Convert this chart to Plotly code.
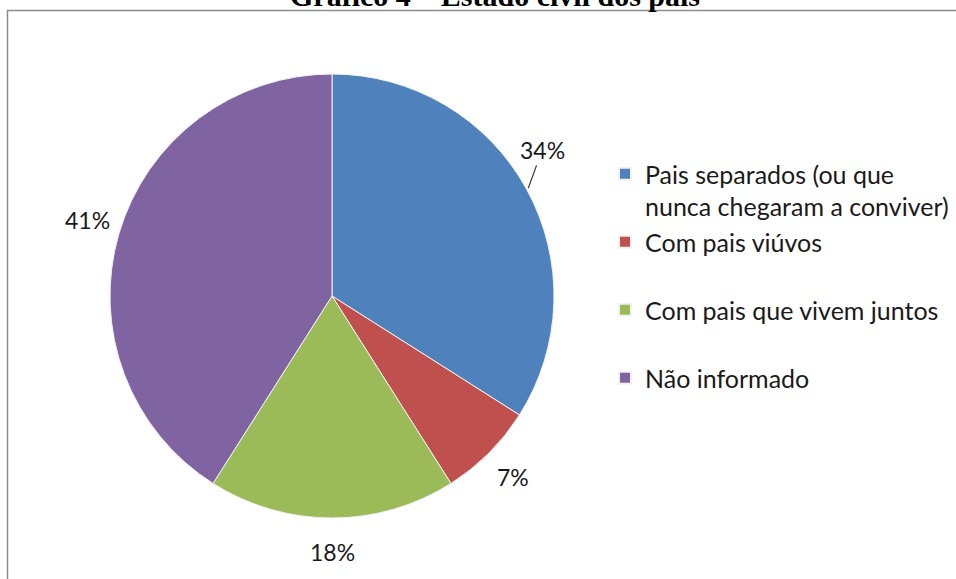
import math
import plotly.graph_objects as go

labels = [
    "Pais separados (ou que<br>nunca chegaram a conviver)",
    "Com pais viúvos<br> ",
    "Com pais que vivem juntos<br> ",
    "Não informado<br> ",
]
values = [34, 7, 18, 41]
colors = ["#4F81BD", "#C0504D", "#9BBB59", "#8064A2"]
title_text = "Gráfico 4 – Estado civil dos pais"

W, H = 956, 579
# pie geometry (pixels)
CX, CY, R = 332, 296, 222
LABEL_R = 256
# angular nudge (degrees) for labels moved by hand in the original
label_nudge = [-6, 0, 0, 1]

fig = go.Figure()
fig.add_trace(go.Pie(
    labels=[f"<span style='font-size:25px'>{l}</span>" for l in labels],
    values=values,
    sort=False,
    direction="clockwise",
    rotation=0,
    marker=dict(colors=colors, line=dict(color="#f2f2f2", width=1)),
    textinfo="none",
    domain=dict(x=[(CX - R) / W, (CX + R) / W], y=[(H - CY - R) / H, (H - CY + R) / H]),
    showlegend=True,
    hoverinfo="label+percent",
))

# percentage labels placed at each slice's mid angle
total = sum(values)
cum = 0
for i, v in enumerate(values):
    mid = (cum + v / 2) / total * 360
    cum += v
    ang = math.radians(mid + label_nudge[i])
    px = CX + LABEL_R * math.sin(ang)
    py = CY - LABEL_R * math.cos(ang)
    pct = f"{round(v / total * 100)}%"
    if i == 0:
        ma = math.radians(mid)
        ex = CX + (R + 2) * math.sin(ma)
        ey = CY - (R + 2) * math.cos(ma)
        fig.add_annotation(
            text=pct, x=ex / W, y=1 - ey / H, xref="paper", yref="paper",
            ax=px - ex, ay=py - ey, axref="pixel", ayref="pixel",
            showarrow=True, arrowhead=0, arrowwidth=1.2, arrowcolor="#333333",
            standoff=0, startstandoff=0,
            font=dict(family="Lato, Open Sans, sans-serif", size=23, color="#1a1a1a"),
        )
    else:
        fig.add_annotation(
            text=pct, x=px / W, y=1 - py / H, xref="paper", yref="paper",
            xanchor="center", yanchor="middle", showarrow=False,
            font=dict(family="Lato, Open Sans, sans-serif", size=23, color="#1a1a1a"),
        )

fig.add_annotation(
    text=f"<b>{title_text}</b>", x=495 / W, y=1 - 14 / H, xref="paper", yref="paper",
    xanchor="center", yanchor="bottom", showarrow=False,
    font=dict(family="Liberation Serif, Times New Roman, serif", size=30, color="black"),
)

fig.add_shape(type="rect", xref="paper", yref="paper",
              x0=7.5 / W, y0=1 - 10.5 / H, x1=1.2, y1=-0.2,
              line=dict(color="#8c8c8c", width=1.5), fillcolor="rgba(0,0,0,0)")

fig.update_layout(
    width=W, height=H,
    margin=dict(l=0, r=0, t=0, b=0),
    paper_bgcolor="white", plot_bgcolor="white",
    legend=dict(
        x=605 / W, y=1 - 151 / H, xanchor="left", yanchor="top",
        valign="top",
        font=dict(family="Lato, Open Sans, sans-serif", size=25, color="#1a1a1a"),
        itemsizing="constant", traceorder="normal",
    ),
)

fig.write_html("out.html")
